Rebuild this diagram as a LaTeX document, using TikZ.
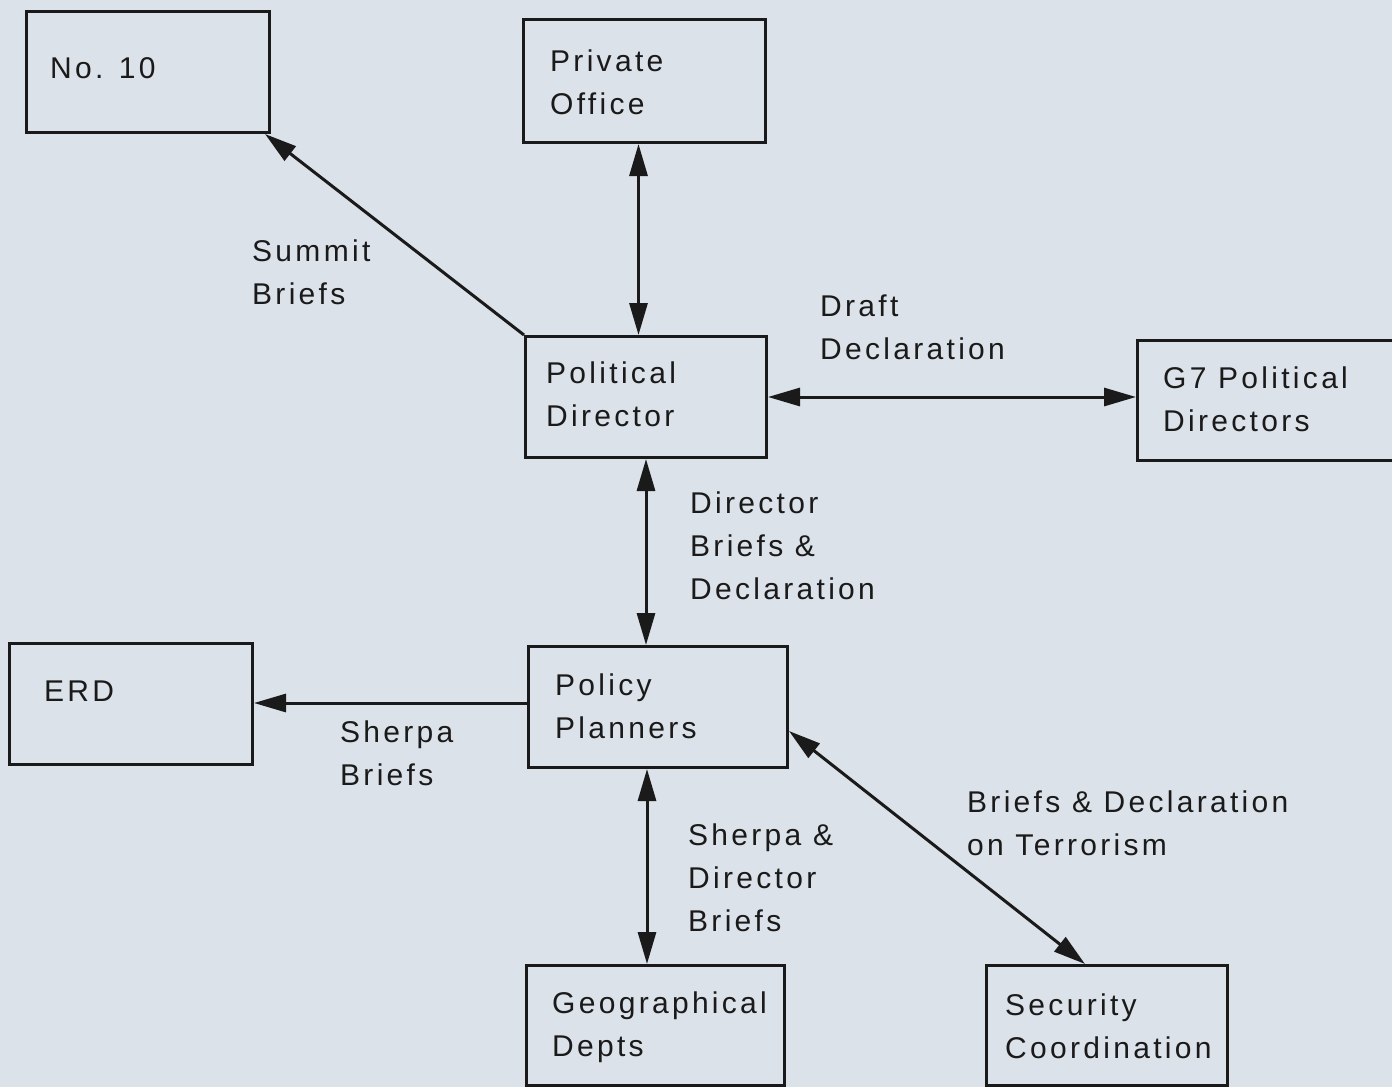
\documentclass[tikz,border=0pt]{standalone}
\usepackage{fontspec}
\setmainfont[LetterSpace=11]{Liberation Sans}
\usetikzlibrary{arrows.meta}
\definecolor{bg}{HTML}{DCE2E9}
\definecolor{ink}{HTML}{1A1A1A}
\newcommand\ml[1]{\vtop{\baselineskip=43pt\lineskiplimit=-200pt #1}}
\tikzset{
  box/.style={draw=ink, line width=3pt, inner sep=0pt, anchor=north west, rectangle},
  txt/.style={text=ink, font=\fontsize{30}{43}\selectfont, inner sep=0pt, anchor=base west},
  conn/.style={draw=ink, line width=3pt},
  tip/.style={-{Triangle[length=32pt,width=18pt]}},
  tips/.style={{Triangle[length=32pt,width=18pt]}-{Triangle[length=32pt,width=18pt]}}
}
\begin{document}
\begin{tikzpicture}[x=1pt,y=-1pt]
\fill[bg] (0,0) rectangle (1392,1087);
\clip (0,0) rectangle (1392,1087);
\useasboundingbox (0,0) rectangle (1392,1087);
% boxes
\node[box, minimum width=243pt, minimum height=121pt] (n10) at (25,10) {};
\node[box, minimum width=242pt, minimum height=123pt] (po) at (522,18) {};
\node[box, minimum width=241pt, minimum height=121pt] (pd) at (524,335) {};
\node[box, minimum width=280pt, minimum height=120pt] (g7) at (1136,339) {};
\node[box, minimum width=243pt, minimum height=121pt] (erd) at (8,642) {};
\node[box, minimum width=259pt, minimum height=121pt] (pp) at (527,645) {};
\node[box, minimum width=258pt, minimum height=120pt] (geo) at (525,964) {};
\node[box, minimum width=241pt, minimum height=120pt] (sec) at (985,964) {};
% box texts
\node[txt] (tn10) at (50,78) {No. 10};
\node[txt] (tpo) at (550,71) {\ml{\hbox{Private}\hbox{Office}}};
\node[txt] (tpd) at (546,383) {\ml{\hbox{Political}\hbox{Director}}};
\node[txt] (tg7) at (1163,388) {\ml{\hbox{G7 Political}\hbox{Directors}}};
\node[txt] (terd) at (44,701) {ERD};
\node[txt] (tpp) at (555,695) {\ml{\hbox{Policy}\hbox{Planners}}};
\node[txt] (tgeo) at (552,1013) {\ml{\hbox{Geographical}\hbox{Depts}}};
\node[txt] (tsec) at (1005,1015) {\ml{\hbox{Security}\hbox{Coordination}}};
% connector labels
\node[txt] (lsum) at (252,261) {\ml{\hbox{Summit}\hbox{Briefs}}};
\node[txt] (ldraft) at (820,316) {\ml{\hbox{Draft}\hbox{Declaration}}};
\node[txt] (ldir) at (690,513) {\ml{\hbox{Director}\hbox{Briefs \&}\hbox{Declaration}}};
\node[txt] (lsher) at (340,742) {\ml{\hbox{Sherpa}\hbox{Briefs}}};
\node[txt] (lshd) at (688,845) {\ml{\hbox{Sherpa \&}\hbox{Director}\hbox{Briefs}}};
\node[txt] (lter) at (967,812) {\ml{\hbox{Briefs \& Declaration}\hbox{on Terrorism}}};
% connectors
\draw[conn, tip] (pd.north west) -- ([xshift=-6pt]n10.south east);
\draw[conn, tips] ([xshift=-6pt]po.south) -- ([xshift=-6pt]po.south |- pd.north);
\draw[conn, tips] (pd.east) -- (pd.east -| g7.west);
\draw[conn, tips] (pd.south) -- (pd.south |- pp.north);
\draw[conn, tip] ([yshift=4pt]pp.west) -- ([yshift=4pt]pp.west -| erd.east);
\draw[conn, tips] ([xshift=-11pt]pp.south) -- ([xshift=-11pt]pp.south |- geo.north);
\draw[conn, tips] ([yshift=-24pt]pp.east) -- ([xshift=-22pt]sec.north);
\end{tikzpicture}
\end{document}
